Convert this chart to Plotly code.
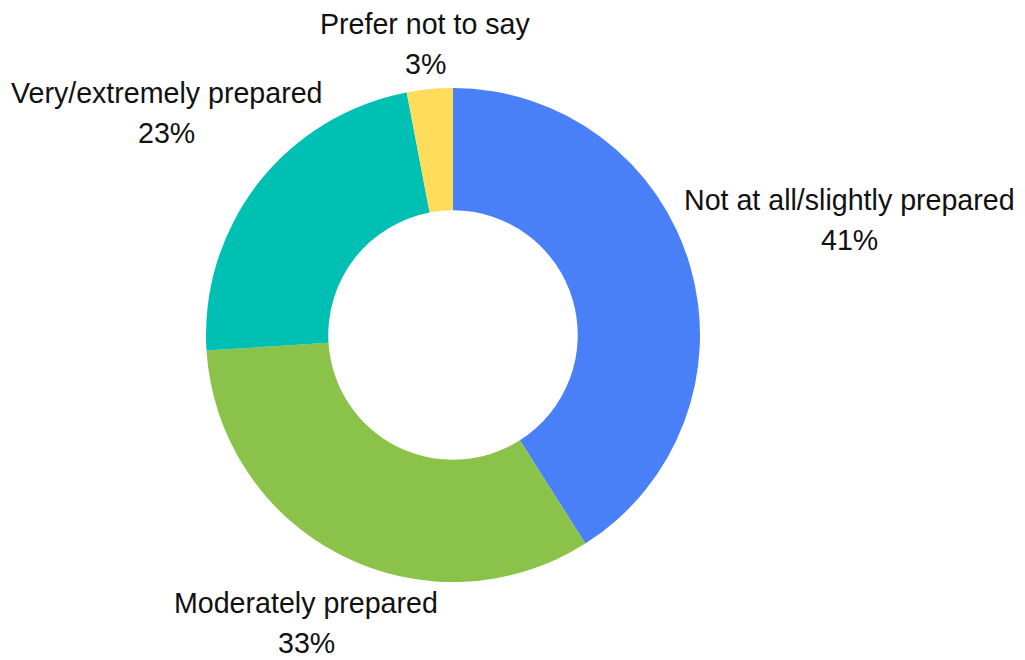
import math
import plotly.graph_objects as go

categories = ["Not at all/slightly prepared", "Moderately prepared", "Very/extremely prepared", "Prefer not to say"]
values = [41, 33, 23, 3]
colors = ["#4A80F7", "#8BC34A", "#00BFB3", "#FFDD5A"]

W, H = 1025, 660
CX, CY, R = 453, 335, 247          # pie centre and outer radius in px
HOLE = 0.505
FONT = 28.6
LABEL_PAD = 9
EDGE_PAD = 10
LINE_GAP = 40
FONT_FAMILY = "Liberation Sans, Arial, Helvetica, sans-serif"

# approximate Arial/Liberation Sans advance widths (1/1000 em) for label placement
_AW = {' ': 278, '/': 278, '%': 889, 'M': 833, 'N': 722, 'P': 667, 'V': 667}
_AW.update({c: 556 for c in "0123456789abdeghnopqu"})
_AW.update({c: 500 for c in "cksvxyz"})
_AW.update({'f': 278, 't': 278, 'i': 222, 'j': 222, 'l': 222, 'm': 833, 'r': 333, 'w': 722})


def text_width(s):
    return sum(_AW.get(ch, 556) for ch in s) / 1000 * FONT


fig = go.Figure(go.Pie(
    labels=categories,
    values=values,
    hole=HOLE,
    sort=False,
    direction="clockwise",
    rotation=0,
    marker=dict(colors=colors, line=dict(width=0)),
    textinfo="none",
    hoverinfo="label+percent",
    showlegend=False,
    domain=dict(x=[(CX - R) / W, (CX + R) / W],
                y=[(H - CY - R) / H, (H - CY + R) / H]),
))

total = sum(values)
cum = 0
annotations = []
for lab, v in zip(categories, values):
    mid = (cum + v / 2) / total * 2 * math.pi
    cum += v
    sx, sy = math.sin(mid), math.cos(mid)   # sy positive = up
    pct = f"{round(v / total * 100)}%"
    hw = max(text_width(lab), text_width(pct)) / 2
    hh = 35
    d = R + LABEL_PAD + math.hypot(hw * sx, hh * sy)
    # keep the label inside the figure by sliding it along its radial line
    if sx < 0 and CX + sx * d - hw < EDGE_PAD:
        d = (CX - hw - EDGE_PAD) / -sx
    if sx > 0 and CX + sx * d + hw > W - EDGE_PAD:
        d = (W - EDGE_PAD - hw - CX) / sx
    px = CX + sx * d
    py = CY - sy * d
    for txt, dy in ((lab, -LINE_GAP / 2), (pct, LINE_GAP / 2)):
        annotations.append(dict(
            x=px / W, y=1 - (py + dy) / H, xref="paper", yref="paper",
            xanchor="center", yanchor="middle", showarrow=False, align="center",
            text=txt,
            font=dict(family=FONT_FAMILY, size=FONT, color="#111111"),
        ))

fig.update_layout(
    width=W, height=H,
    margin=dict(l=0, r=0, t=0, b=0),
    paper_bgcolor="white",
    plot_bgcolor="white",
    annotations=annotations,
)
fig.write_html("out.html", post_script="document.body.style.margin='0';",
               config={"displayModeBar": False})
